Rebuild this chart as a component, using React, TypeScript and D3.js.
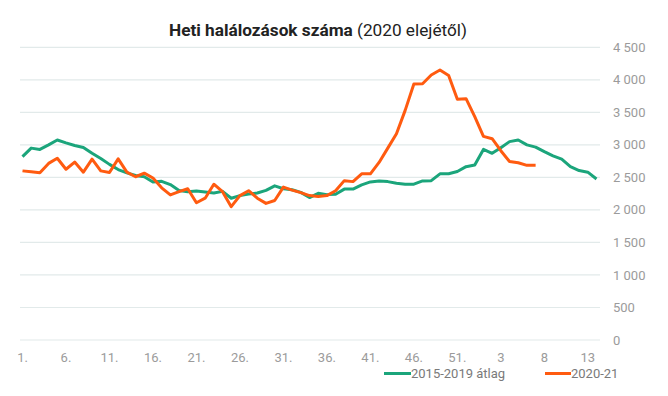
import * as d3 from 'd3'
import { useMemo } from 'react'

// heti halálozások, 2020 1. héttől
const avgSeries: number[] = [
  2820, 2950, 2930, 3000, 3075, 3030, 2990, 2960, 2870, 2790,
  2700, 2620, 2570, 2530, 2510, 2430, 2440, 2390, 2300, 2280,
  2290, 2275, 2260, 2285, 2180, 2220, 2245, 2260, 2300, 2370,
  2325, 2310, 2270, 2190, 2255, 2235, 2240, 2320, 2320, 2385,
  2430, 2445, 2435, 2410, 2395, 2395, 2445, 2450, 2555, 2555,
  2590, 2665, 2690, 2930, 2870, 2955, 3050, 3075, 3000, 2965,
  2895, 2830, 2780, 2665, 2605, 2580, 2475,
]

const currentSeries: number[] = [
  2600, 2585, 2570, 2715, 2795, 2625, 2735, 2580, 2780, 2600,
  2575, 2785, 2580, 2510, 2565, 2490, 2340, 2230, 2280, 2325,
  2110, 2180, 2395, 2280, 2050, 2220, 2295, 2180, 2100, 2145,
  2350, 2305, 2265, 2220, 2205, 2220, 2295, 2450, 2435, 2555,
  2555, 2730, 2950, 3170, 3530, 3935, 3940, 4075, 4150, 4065,
  3700, 3710, 3435, 3130, 3095, 2910, 2745, 2725, 2685, 2685,
]

const xTickIndex = [0, 5, 10, 15, 20, 25, 30, 35, 40, 45, 50, 55, 60, 65]
const xTickLabels = ['1.', '6.', '11.', '16.', '21.', '26.', '31.', '36.', '41.', '46.', '51.', '3', '8', '13']
const yTicks = [0, 500, 1000, 1500, 2000, 2500, 3000, 3500, 4000, 4500]

const seriesNames = ['2015-2019 átlag', '2020-21']
const GREEN = '#1ba57b'
const ORANGE = '#ff5b10'

const width = 668
const height = 396
const font = 'Roboto, "Noto Sans", sans-serif'

const fmt = (v: number) => d3.format(',')(v).replace(/,/g, ' ')

export default function App() {
  const x = useMemo(() => d3.scaleLinear().domain([0, 66]).range([22.5, 596.5]), [])
  const y = useMemo(() => d3.scaleLinear().domain([0, 4500]).range([340, 47.3]), [])

  const line = d3.line<number>()
    .x((_, i) => x(i))
    .y((d) => y(d))

  return (
    <div style={{ position: 'absolute', left: 0, top: 0 }}>
      <svg width={width} height={height} style={{ display: 'block', background: '#fff' }}>
        <text
          x={318}
          y={36}
          textAnchor="middle"
          fontFamily={font}
          fontSize={17}
          fill="#222"
          textLength={298}
          lengthAdjust="spacingAndGlyphs"
        >
          <tspan fontWeight="bold">Heti halálozások száma</tspan>
          <tspan> (2020 elejétől)</tspan>
        </text>

        {yTicks.map((t) => (
          <g key={t}>
            <line x1={20} x2={600} y1={y(t)} y2={y(t)} stroke="#e2eaea" strokeWidth={1.2} />
            <text
              x={613}
              y={y(t)}
              dy="0.35em"
              fontFamily={font}
              fontSize={13}
              fill="#9b9b9b"
            >
              {fmt(t)}
            </text>
          </g>
        ))}

        {xTickIndex.map((idx, k) => (
          <text
            key={idx}
            x={x(idx)}
            y={362}
            textAnchor="middle"
            fontFamily={font}
            fontSize={13}
            fill="#9b9b9b"
          >
            {xTickLabels[k]}
          </text>
        ))}

        <path d={line(avgSeries) ?? ''} fill="none" stroke={GREEN} strokeWidth={3} strokeLinejoin="round" />
        <path d={line(currentSeries) ?? ''} fill="none" stroke={ORANGE} strokeWidth={3} strokeLinejoin="round" />

        {/* legend */}
        <g fontFamily={font} fontSize={13} fill="#7a7a7a">
          <line x1={384} x2={411} y1={373.5} y2={373.5} stroke={GREEN} strokeWidth={3} />
          <text x={411} y={378}>{seriesNames[0]}</text>
          <line x1={545} x2={571} y1={373.5} y2={373.5} stroke={ORANGE} strokeWidth={3} />
          <text x={571} y={378}>{seriesNames[1]}</text>
        </g>
      </svg>
    </div>
  )
}
